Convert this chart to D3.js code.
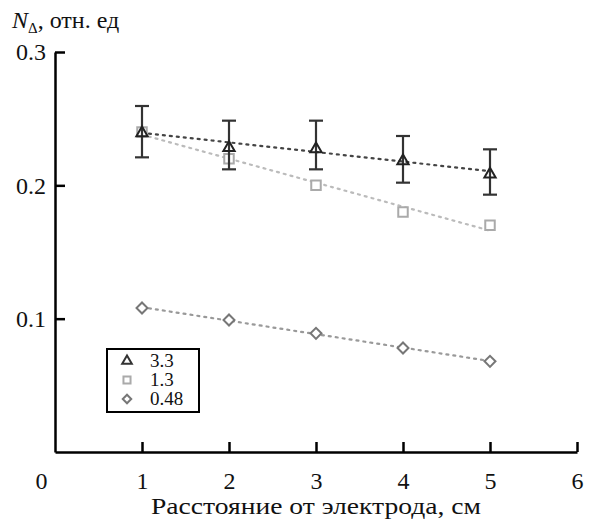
<!DOCTYPE html>
<html>
<head>
<meta charset="utf-8">
<script src="https://cdn.jsdelivr.net/npm/d3@7"></script>
<style>
body { margin: 0; background: #fff; }
</style>
</head>
<body>
<svg id="chart" width="590" height="522"></svg>
<script>
// DATA
const distance = [1, 2, 3, 4, 5];
const series33 = [0.240, 0.229, 0.228, 0.219, 0.209];
const err33lo = [0.221, 0.212, 0.212, 0.202, 0.193];
const err33hi = [0.2595, 0.2485, 0.2485, 0.237, 0.227];
const series13 = [0.240, 0.220, 0.200, 0.180, 0.170];
const series048 = [0.108, 0.099, 0.089, 0.078, 0.068];
const legendLabels = ['3.3', '1.3', '0.48'];
const xTicks = [0, 1, 2, 3, 4, 5, 6];
const yTicks = [0.1, 0.2, 0.3];

const serif = "Liberation Serif, Tinos, DejaVu Serif, serif";

var svg = d3.select('#chart');

var x = d3.scaleLinear().domain([0, 6]).range([55, 577]),
	y = d3.scaleLinear().domain([0, 0.3]).range([452, 52]);

// least squares trend line
function fit(xs, ys) {
	let mx = d3.mean(xs), my = d3.mean(ys);
	let sxy = d3.sum(xs, (d, i) => (d - mx) * (ys[i] - my));
	let sxx = d3.sum(xs, d => (d - mx) * (d - mx));
	let b = sxy / sxx, a = my - b * mx;
	return [[xs[0], a + b * xs[0]], [xs[xs.length - 1], a + b * xs[xs.length - 1]]];
}

// AXES
var xAxis = svg.append('g')
	.attr('transform', `translate(0,${y(0)})`)
	.call(d3.axisBottom(x).tickValues(xTicks).tickSizeInner(-10).tickSizeOuter(0).tickPadding(20).tickFormat(d3.format('d')));

var yAxis = svg.append('g')
	.attr('transform', `translate(${x(0)},0)`)
	.call(d3.axisLeft(y).tickValues(yTicks).tickSizeInner(-10).tickSizeOuter(0).tickPadding(9).tickFormat(d3.format('.1f')));

[xAxis, yAxis].forEach(g => {
	g.attr('font-family', serif).attr('font-size', 24);
	g.select('.domain').attr('stroke', '#000').attr('stroke-width', 2.5);
	g.selectAll('.tick line').attr('stroke', '#000').attr('stroke-width', 2.5);
	g.selectAll('.tick text').attr('fill', '#111');
});
xAxis.selectAll('.tick text').attr('dy', '0.71em');
// origin label sits left of the axis
xAxis.selectAll('.tick').filter(d => d === 0).select('text').attr('x', -14);
xAxis.selectAll('.tick').filter(d => d === 0).select('line').remove();

// axis titles
svg.append('text')
	.attr('x', x(3)).attr('y', 514)
	.attr('text-anchor', 'middle')
	.attr('font-family', serif).attr('font-size', 23).attr('fill', '#111')
	.attr('textLength', 330).attr('lengthAdjust', 'spacingAndGlyphs')
	.text('Расстояние от электрода, см');

var ttl = svg.append('text').attr('x', 12).attr('y', 28)
	.attr('font-family', serif).attr('font-size', 24).attr('fill', '#111');
ttl.append('tspan').attr('font-style', 'italic').text('N');
ttl.append('tspan').attr('dy', 5).attr('font-size', 15).text('Δ');
ttl.append('tspan').attr('dy', -5).text(', отн. ед');

// TREND LINES
var line = d3.line().x(d => x(d[0])).y(d => y(d[1]));
var lines = [
	{ ys: series048, color: '#999' },
	{ ys: series13, color: '#bbb' },
	{ ys: series33, color: '#444' }
];
lines.forEach(l => {
	svg.append('path')
		.attr('d', line(fit(distance, l.ys)))
		.attr('fill', 'none')
		.attr('stroke', l.color)
		.attr('stroke-width', 2.2)
		.attr('stroke-dasharray', '2,5')
		.attr('stroke-linecap', 'round');
});

// MARKERS
var triangle = d3.symbol().type(d3.symbolTriangle).size(55),
	square = d3.symbol().type(d3.symbolSquare).size(90),
	diamond = d3.symbol().type(d3.symbolSquare).size(60);

// diamonds 0.48
svg.append('g').selectAll('path').data(distance).enter()
	.append('path')
	.attr('d', diamond)
	.attr('transform', (d, i) => `translate(${x(d)},${y(series048[i])}) rotate(45)`)
	.attr('fill', '#fff').attr('stroke', '#777').attr('stroke-width', 2);

// squares 1.3
svg.append('g').selectAll('path').data(distance).enter()
	.append('path')
	.attr('d', square)
	.attr('transform', (d, i) => `translate(${x(d)},${y(series13[i])})`)
	.attr('fill', '#fff').attr('stroke', '#aaa').attr('stroke-width', 2);

// error bars 3.3
var eb = svg.append('g').selectAll('g').data(distance).enter().append('g')
	.attr('stroke', '#333').attr('stroke-width', 2.2);
eb.append('line')
	.attr('x1', d => x(d)).attr('x2', d => x(d))
	.attr('y1', (d, i) => y(err33lo[i])).attr('y2', (d, i) => y(err33hi[i]));
eb.append('line')
	.attr('x1', d => x(d) - 7).attr('x2', d => x(d) + 7)
	.attr('y1', (d, i) => y(err33hi[i])).attr('y2', (d, i) => y(err33hi[i]));
eb.append('line')
	.attr('x1', d => x(d) - 7).attr('x2', d => x(d) + 7)
	.attr('y1', (d, i) => y(err33lo[i])).attr('y2', (d, i) => y(err33lo[i]));

// triangles 3.3
svg.append('g').selectAll('path').data(distance).enter()
	.append('path')
	.attr('d', triangle)
	.attr('transform', (d, i) => `translate(${x(d)},${y(series33[i]) + 1})`)
	.attr('fill', 'none').attr('stroke', '#222').attr('stroke-width', 2);

// LEGEND
var legend = svg.append('g');
legend.append('rect')
	.attr('x', 107).attr('y', 349).attr('width', 92).attr('height', 63)
	.attr('fill', '#fff').attr('stroke', '#000').attr('stroke-width', 2);

var legendMarks = [
	{ sym: d3.symbol().type(d3.symbolTriangle).size(40), color: '#333', rot: 0 },
	{ sym: d3.symbol().type(d3.symbolSquare).size(50), color: '#aaa', rot: 0 },
	{ sym: d3.symbol().type(d3.symbolSquare).size(36), color: '#777', rot: 45 }
];
legendLabels.forEach((lab, i) => {
	let cy = 361 + i * 19;
	legend.append('path')
		.attr('d', legendMarks[i].sym)
		.attr('transform', `translate(127,${cy}) rotate(${legendMarks[i].rot})`)
		.attr('fill', '#fff').attr('stroke', legendMarks[i].color).attr('stroke-width', 2);
	legend.append('text')
		.attr('x', 150).attr('y', cy + 6)
		.attr('font-family', serif).attr('font-size', 19).attr('fill', '#111')
		.text(lab);
});
</script>
</body>
</html>
